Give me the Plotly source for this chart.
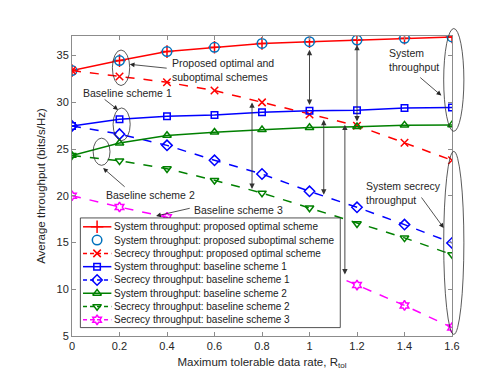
import plotly.graph_objects as go

# Maximum tolerable data rate R_tol
r_tol = [0, 0.2, 0.4, 0.6, 0.8, 1.0, 1.2, 1.4, 1.6]

sys_opt = [33.4, 34.47, 35.43, 35.89, 36.31, 36.49, 36.67, 36.86, 37.0]
sys_subopt = [33.4, 34.47, 35.43, 35.89, 36.31, 36.49, 36.67, 36.86, 37.0]
sec_opt = [33.4, 32.76, 32.15, 31.26, 30.0, 28.7, 27.5, 25.67, 23.8]
sys_b1 = [27.48, 28.2, 28.52, 28.66, 28.95, 29.1, 29.16, 29.4, 29.45]
sec_b1 = [27.48, 26.6, 25.4, 23.8, 22.33, 20.48, 18.77, 16.92, 14.96]
sys_b2 = [24.32, 25.64, 26.46, 26.81, 27.07, 27.3, 27.4, 27.56, 27.59]
sec_b2 = [24.32, 23.75, 22.9, 21.66, 20.3, 18.7, 17.02, 15.5, 13.71]
sec_b3 = [20.01, 18.8, 17.7, 16.3, 14.5, 12.6, 10.45, 8.27, 5.9]

X_RANGE = [0, 1.6]
Y_RANGE = [5, 37.1]

FONT = "Liberation Sans, Arial, sans-serif"
AX = "#8c8c8c"

# (values, name, color, symbol, dash, mode, marker size)
series = [
    (sys_opt, "System throughput: proposed optimal scheme", "#ff0000", "cross-thin-open", "solid", "lines+markers", 9),
    (sys_subopt, "System throughput: proposed suboptimal scheme", "#0072bd", "circle-open", "solid", "markers", 9.5),
    (sec_opt, "Secrecy throughput: proposed optimal scheme", "#ff0000", "x-thin-open", "dash", "lines+markers", 7.5),
    (sys_b1, "System throughput: baseline scheme 1", "#0000ff", "square-open", "solid", "lines+markers", 6.5),
    (sec_b1, "Secrecy throughput: baseline scheme 1", "#0000ff", "diamond-open", "dash", "lines+markers", 8),
    (sys_b2, "System throughput: baseline scheme 2", "#008000", "triangle-up-open", "solid", "lines+markers", 7.5),
    (sec_b2, "Secrecy throughput: baseline scheme 2", "#008000", "triangle-down-open", "dash", "lines+markers", 7.5),
    (sec_b3, "Secrecy throughput: baseline scheme 3", "#ff00ff", "hexagram-open", "dash", "lines+markers", 7.5),
]

fig = go.Figure()

for y, name, color, symbol, dash, mode, size in series:
    fig.add_trace(go.Scatter(
        x=r_tol, y=y, name=name, mode=mode,
        line=dict(color=color, width=1.5, dash=dash),
        marker=dict(symbol=symbol, size=size, color=color,
                    line=dict(color=color, width=1.5)),
    ))


def px(x):
    return (x - X_RANGE[0]) / (X_RANGE[1] - X_RANGE[0])


def py(y):
    return (y - Y_RANGE[0]) / (Y_RANGE[1] - Y_RANGE[0])


# ellipses grouping the marked points (x0, x1, y0, y1 in data units)
ellipses = [
    (0.17, 0.243, 31.8, 35.6),
    (0.173, 0.245, 25.9, 29.4),
    (0.089, 0.16, 23.26, 26.17),
    (1.565, 1.65, 26.9, 37.9),
    (1.565, 1.65, 5.17, 24.75),
]
for x0, x1, y0, y1 in ellipses:
    fig.add_shape(type="circle", xref="paper", yref="paper",
                  x0=px(x0), x1=px(x1), y0=py(y0), y1=py(y1),
                  line=dict(color="#303030", width=0.8), layer="above")

# text labels with arrows: (text, text x, text y, tail x, tail y, head x, head y)
labels = [
    ("Proposed optimal and<br>suboptimal schemes", 0.412, 33.43, 0.405, 33.64, 0.243, 34.07),
    ("Baseline scheme 1", 0.039, 30.97, 0.131, 30.44, 0.194, 29.19),
    ("Baseline scheme 2", 0.135, 20.12, 0.228, 20.83, 0.131, 22.97),
    ("Baseline scheme 3", 0.506, 18.52, 0.502, 18.7, 0.354, 17.84),
    ("System<br>throughput", 1.325, 34.53, 1.46, 32.79, 1.555, 30.73),
    ("System secrecy<br>throughput", 1.23, 20.3, 1.467, 19.98, 1.565, 16.56),
]
for text, tx, ty, ax, ay, hx, hy in labels:
    fig.add_annotation(x=tx, y=ty, text=text, showarrow=False, xanchor="left",
                       align="left", font=dict(family=FONT, size=10.5, color="#262626"))
    fig.add_annotation(x=hx, y=hy, ax=ax, ay=ay, xref="x", yref="y", axref="x", ayref="y",
                       text="", showarrow=True, arrowhead=2, arrowsize=1.2,
                       arrowwidth=0.8, arrowcolor="#262626")

# vertical double arrows showing the gaps
gaps = [
    (0.758, 30.15, 20.73),
    (1.0, 35.78, 29.73),
    (1.06, 28.3, 20.12),
    (1.149, 27.77, 11.58),
    (1.2, 36.31, 27.95),
]
for gx, gy0, gy1 in gaps:
    fig.add_annotation(x=gx, y=gy1, ax=gx, ay=gy0, xref="x", yref="y", axref="x", ayref="y",
                       text="", showarrow=True, arrowhead=2, startarrowhead=2,
                       arrowside="end+start", arrowsize=1.2, startarrowsize=1.2,
                       arrowwidth=0.9, arrowcolor="#333333")

# compact MATLAB-like legend, drawn on an overlay axis in plot-area fractions
bx0, bx1, by0, by1 = 0.022, 0.706, 0.028, 0.3935
row_top, row_step = 0.364, 0.0443
lx0, lxm, lx1, tx = 0.029, 0.066, 0.1036, 0.104

fig.add_trace(go.Scatter(
    x=[bx0, bx1, bx1, bx0, bx0], y=[by0, by0, by1, by1, by0],
    xaxis="x2", yaxis="y2", mode="lines", fill="toself", fillcolor="white",
    line=dict(color="#262626", width=0.8), hoverinfo="skip",
))
for i, (y, name, color, symbol, dash, mode, size) in enumerate(series):
    ry = row_top - i * row_step
    if "lines" in mode:
        fig.add_trace(go.Scatter(
            x=[lx0, lx1], y=[ry, ry], xaxis="x2", yaxis="y2", mode="lines",
            line=dict(color=color, width=1.5, dash="solid" if dash == "solid" else "4px,3px"),
            hoverinfo="skip",
        ))
    fig.add_trace(go.Scatter(
        x=[lxm], y=[ry], xaxis="x2", yaxis="y2", mode="markers",
        marker=dict(symbol=symbol, size=size, color=color, line=dict(color=color, width=1.5)),
        hoverinfo="skip",
    ))
    fig.add_annotation(x=tx, y=ry, xref="paper", yref="paper", text=name, showarrow=False,
                       xanchor="left", yanchor="middle",
                       font=dict(family=FONT, size=10, color="#1a1a1a"))

fig.update_xaxes(
    range=X_RANGE, tickvals=r_tol, ticktext=["0", "0.2", "0.4", "0.6", "0.8", "1", "1.2", "1.4", "1.6"],
    ticks="inside", ticklen=4, tickcolor=AX, showline=True, linecolor=AX, linewidth=1,
    mirror="ticks", showgrid=False, zeroline=False,
    tickfont=dict(family=FONT, size=11, color="#262626"),
    title=dict(text="Maximum tolerable data rate, R<sub>tol</sub>", standoff=6,
               font=dict(family=FONT, size=11.5, color="#262626")),
)
fig.update_yaxes(
    range=Y_RANGE, tickvals=[5, 10, 15, 20, 25, 30, 35],
    ticks="inside", ticklen=4, tickcolor=AX, showline=True, linecolor=AX, linewidth=1,
    mirror="ticks", showgrid=False, zeroline=False,
    tickfont=dict(family=FONT, size=11, color="#262626"),
    title=dict(text="Average throughput (bits/s/Hz)", standoff=8,
               font=dict(family=FONT, size=11.5, color="#262626")),
)

fig.update_layout(
    width=491, height=369,
    margin=dict(l=64, r=47, t=28, b=41),
    plot_bgcolor="white", paper_bgcolor="white",
    showlegend=False,
    xaxis2=dict(range=[0, 1], overlaying="x", visible=False, anchor="y2"),
    yaxis2=dict(range=[0, 1], overlaying="y", visible=False, anchor="x2"),
)

fig.write_html("out.html")
